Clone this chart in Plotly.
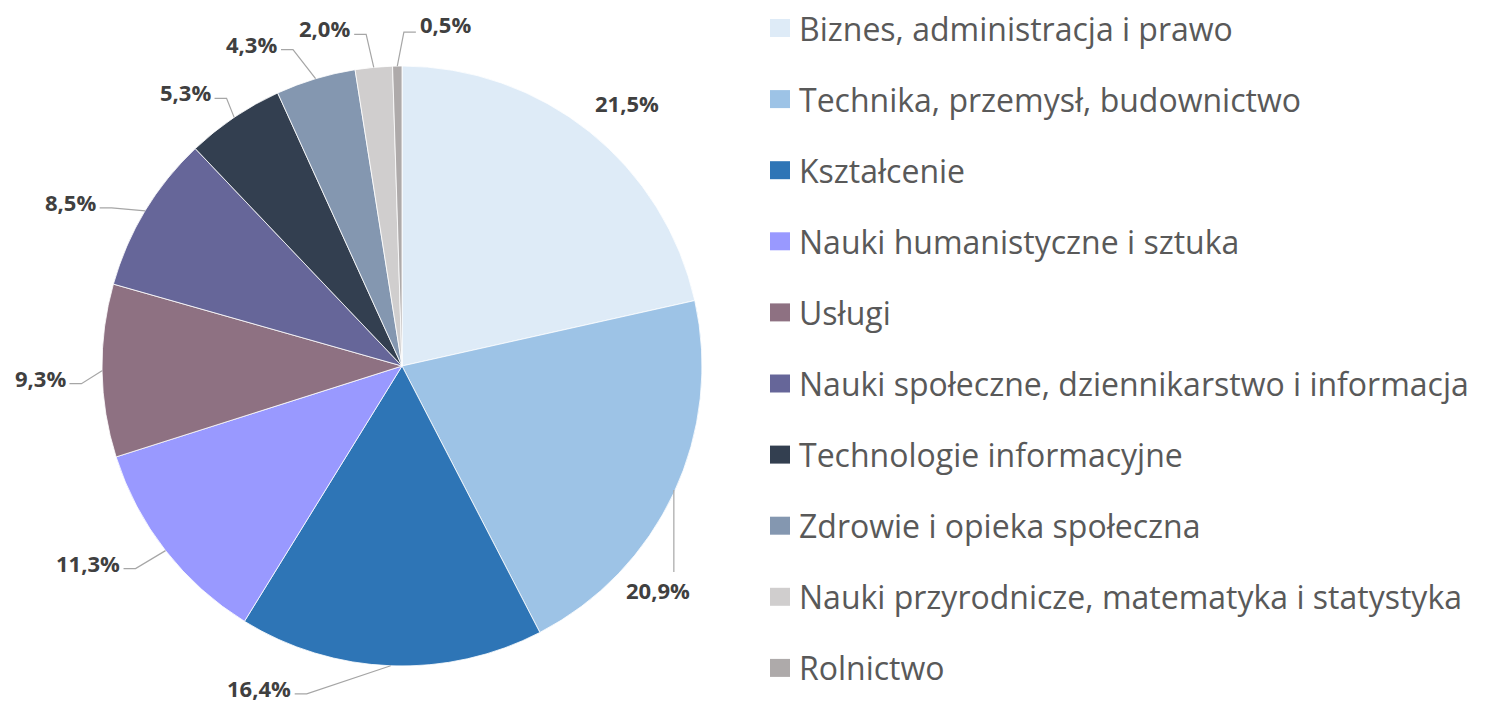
import math
import plotly.graph_objects as go

# ---- data ----
categories = [
    "Biznes, administracja i prawo",
    "Technika, przemysł, budownictwo",
    "Kształcenie",
    "Nauki humanistyczne i sztuka",
    "Usługi",
    "Nauki społeczne, dziennikarstwo i informacja",
    "Technologie informacyjne",
    "Zdrowie i opieka społeczna",
    "Nauki przyrodnicze, matematyka i statystyka",
    "Rolnictwo",
]
shares = [21.5, 20.9, 16.4, 11.3, 9.3, 8.5, 5.3, 4.3, 2.0, 0.5]
share_labels = ["21,5%", "20,9%", "16,4%", "11,3%", "9,3%", "8,5%", "5,3%", "4,3%", "2,0%", "0,5%"]

# ---- style ----
colors = ["#DEEBF7", "#9DC3E6", "#2E75B6", "#9999FF", "#8E7182",
          "#666699", "#333F50", "#8497B0", "#D0CECE", "#AEAAAA"]
W, H = 1488, 701
OFF = 8                             # page body margin
CX, CY, R = 402, 366, 300          # pie centre / radius in screen pixels
FONT = "Open Sans"
LABEL_COLOR = "#404040"
LEADER_COLOR = "#A6A6A6"
LABEL_SIZE = 22
LEGEND_SIZE = 32
CHAR_W = 13.2                      # approx label char width for leader placement
# label offset from slice edge midpoint (pixels) and leader style
label_shift = [(37, -29), (-16, 97), (-132, 22), (-78, 12), (-62, 7),
               (-75, -9), (-49, -25), (-64, -35), (-49, -39), (48, -42)]
leader_kind = ["none", "down", "left", "left", "left",
               "left", "left", "left", "left", "right"]


def px(x):
    return (x - OFF) / W


def py(y):
    return 1 - (y - OFF) / H


fig = go.Figure(go.Pie(
    labels=categories,
    values=shares,
    sort=False,
    direction="clockwise",
    rotation=0,
    marker=dict(colors=colors, line=dict(color="white", width=0.8)),
    textinfo="none",
    hoverinfo="label+percent",
    showlegend=False,
    domain=dict(x=[px(CX - R), px(CX + R)], y=[py(CY + R), py(CY - R)]),
))

annotations = []
shapes = []
total = sum(shares)
cum = 0.0
for i, v in enumerate(shares):
    mid = (cum + v / 2) / total * 2 * math.pi
    cum += v
    ex = CX + R * math.sin(mid)
    ey = CY - R * math.cos(mid)
    lx = ex + label_shift[i][0]
    ly = ey + label_shift[i][1]
    annotations.append(dict(
        x=px(lx), y=py(ly), xref="paper", yref="paper",
        text=share_labels[i], showarrow=False,
        xanchor="center", yanchor="middle", borderpad=0,
        font=dict(family=FONT, size=LABEL_SIZE, color=LABEL_COLOR, weight="bold"),
    ))
    hw = 0.5 * len(share_labels[i]) * CHAR_W
    kind = leader_kind[i]
    pts = None
    if kind == "left":
        tx, ty = lx + hw + 3, ly + 6
        pts = [(tx, ty), (tx + 12, ty), (ex, ey)]
    elif kind == "right":
        tx, ty = lx - hw - 3, ly + 8
        pts = [(tx, ty), (tx - 12, ty), (ex, ey)]
    elif kind == "down":
        pts = [(ex, ey - 3), (ex, ly - 18)]
    if pts:
        path = "M " + " L ".join(f"{px(a):.5f},{py(b):.5f}" for a, b in pts)
        shapes.append(dict(type="path", path=path, xref="paper", yref="paper",
                           line=dict(color=LEADER_COLOR, width=1.2)))

# custom legend
LEG_X, LEG_Y0, LEG_DY = 770, 28, 71.1
for i, (c, name) in enumerate(zip(colors, categories)):
    yc = LEG_Y0 + i * LEG_DY
    shapes.append(dict(type="rect", xref="paper", yref="paper",
                       x0=px(LEG_X), x1=px(LEG_X + 20), y0=py(yc - 9), y1=py(yc + 9),
                       fillcolor=c, line=dict(width=0)))
    annotations.append(dict(
        x=px(LEG_X + 27), y=py(yc), xref="paper", yref="paper",
        text=name, showarrow=False, xanchor="left", yanchor="middle",
        font=dict(family=FONT, size=LEGEND_SIZE, color="#595959"),
    ))

fig.update_layout(
    width=W, height=H,
    margin=dict(l=0, r=0, t=0, b=0),
    paper_bgcolor="white", plot_bgcolor="white",
    annotations=annotations, shapes=shapes,
)
fig.write_html("out.html")
